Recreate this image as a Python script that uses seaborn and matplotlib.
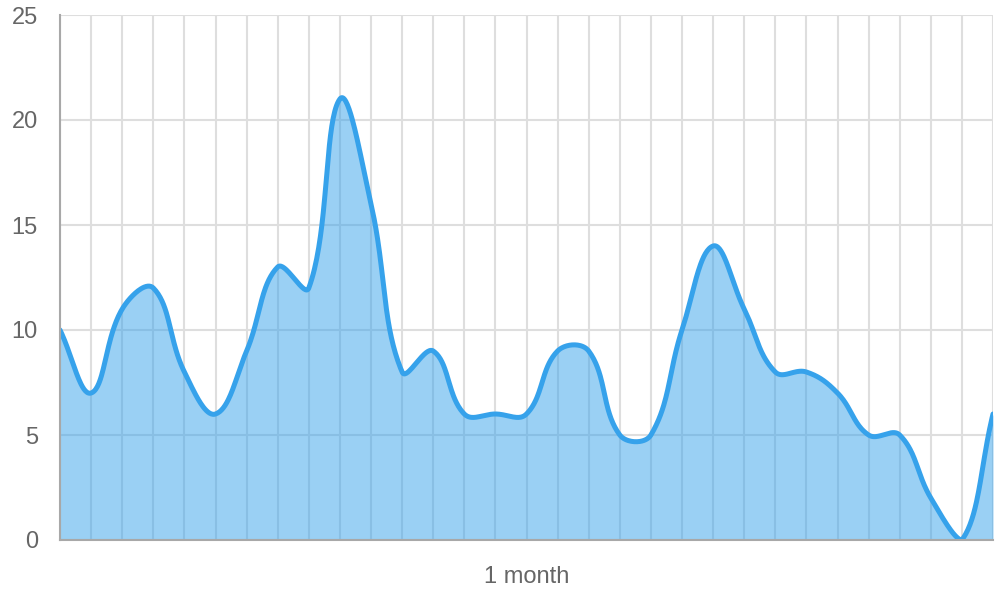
import numpy as np
import pandas as pd
import matplotlib
matplotlib.use("Agg")
import matplotlib.pyplot as plt
import seaborn as sns

# ---- data ----
values = [10, 7, 11, 12, 8, 6, 9, 13, 12, 21, 16, 8, 9, 6, 6, 6,
          9, 9, 5, 5, 10, 14, 11, 8, 8, 7, 5, 5, 2, 0, 6]
x_labels = [""] * 15 + ["1 month"] + [""] * 15
y_ticks = [0, 5, 10, 15, 20, 25]

LINE = "#36A2EB"
FILL = (54 / 255, 162 / 255, 235 / 255, 0.5)
GRID = "#dedede"
AXIS = "#a8a8a8"
TEXT = "#666666"

sns.set_theme(style="white")
plt.rcParams["font.family"] = ["Liberation Sans", "DejaVu Sans"]

fig = plt.figure(figsize=(10, 6), dpi=100)
ax = fig.add_axes([0.060, 0.10, 0.933, 0.875])

n = len(values)
xs = np.arange(n, dtype=float)
ys = np.array(values, dtype=float)
ax.set_xlim(0, n - 1)
ax.set_ylim(0, 25)

# Chart.js-style bezier smoothing (tension 0.4), weights from pixel distances
sx = 933 / (n - 1)
sy = 525 / 25
t = 0.4
cps = []
for i in range(n):
    p0 = (xs[max(i - 1, 0)], ys[max(i - 1, 0)])
    p1 = (xs[i], ys[i])
    p2 = (xs[min(i + 1, n - 1)], ys[min(i + 1, n - 1)])
    d01 = np.hypot((p1[0] - p0[0]) * sx, (p1[1] - p0[1]) * sy)
    d12 = np.hypot((p2[0] - p1[0]) * sx, (p2[1] - p1[1]) * sy)
    tot = d01 + d12
    s01 = d01 / tot if tot else 0
    s12 = d12 / tot if tot else 0
    fa, fb = t * s01, t * s12
    prev_cp = [p1[0] - fa * (p2[0] - p0[0]), p1[1] - fa * (p2[1] - p0[1])]
    next_cp = [p1[0] + fb * (p2[0] - p0[0]), p1[1] + fb * (p2[1] - p0[1])]
    for cp in (prev_cp, next_cp):
        cp[0] = min(max(cp[0], 0), n - 1)
        cp[1] = min(max(cp[1], 0), 25)
    cps.append((prev_cp, next_cp))

curve_x, curve_y = [], []
u = np.linspace(0, 1, 40)
for i in range(n - 1):
    P0 = np.array([xs[i], ys[i]])
    P1 = np.array(cps[i][1])
    P2 = np.array(cps[i + 1][0])
    P3 = np.array([xs[i + 1], ys[i + 1]])
    seg = ((1 - u) ** 3)[:, None] * P0 + (3 * (1 - u) ** 2 * u)[:, None] * P1 \
        + (3 * (1 - u) * u ** 2)[:, None] * P2 + (u ** 3)[:, None] * P3
    if i > 0:
        seg = seg[1:]
    curve_x.extend(seg[:, 0])
    curve_y.extend(seg[:, 1])

df = pd.DataFrame({"x": curve_x, "y": curve_y})

# grid
ax.set_xticks(xs)
ax.set_xticklabels(x_labels)
ax.set_yticks(y_ticks)
ax.grid(True, color=GRID, linewidth=1.5, zorder=0)
ax.set_axisbelow(True)

ax.fill_between(df["x"], 0, df["y"], color=FILL, linewidth=0, zorder=2)
sns.lineplot(data=df, x="x", y="y", ax=ax, color=LINE, linewidth=3.6,
             sort=False, estimator=None, zorder=3)
ax.set_xlabel("")
ax.set_ylabel("")

for s in ["top", "right"]:
    ax.spines[s].set_visible(False)
for s in ["left", "bottom"]:
    ax.spines[s].set_color(AXIS)
    ax.spines[s].set_linewidth(1.5)
    ax.spines[s].set_zorder(4)

ax.tick_params(axis="both", which="both", length=14, width=1.5, color=GRID,
               labelcolor=TEXT, labelsize=17)
ax.tick_params(axis="y", pad=2)
ax.tick_params(axis="x", pad=5)

fig.savefig("out.png", dpi=100, facecolor="white")
